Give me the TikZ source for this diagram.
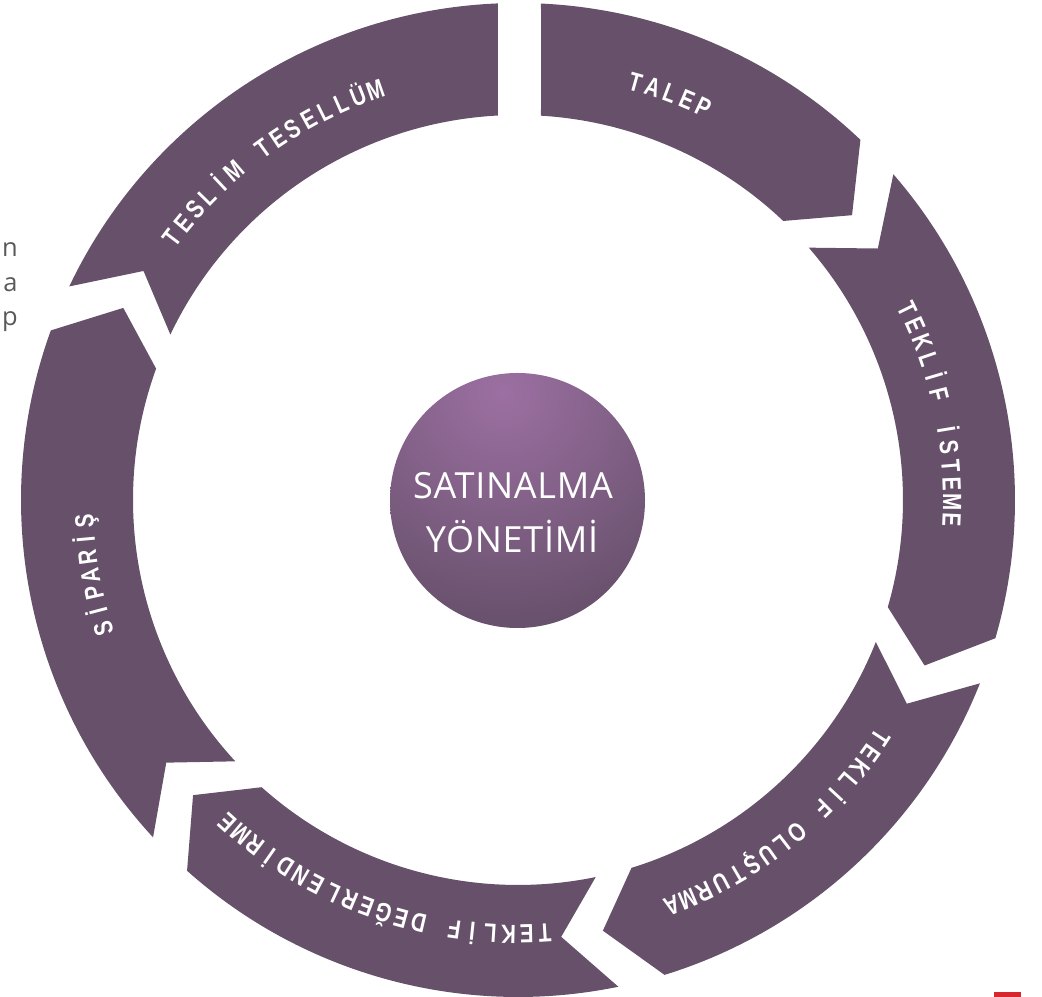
\documentclass[tikz,border=0pt]{standalone}
\usepackage{fontspec}
\usepackage{tikz}
\usetikzlibrary{positioning}
\newfontfamily\ringfont[FakeStretch=0.78]{Liberation Sans}
\newfontfamily\titlefont[LetterSpace=2]{Open Sans}
\definecolor{plum}{RGB}{102,80,106}
\definecolor{plumlight}{RGB}{156,112,162}
\definecolor{barred}{RGB}{215,38,46}

\begin{document}
\begin{tikzpicture}[x=0.02cm,y=0.02cm,
    segment/.style={fill=plum},
    ringchar/.style={text=white, anchor=base, inner sep=0pt,
      font=\ringfont\bfseries\fontsize{15}{18}\selectfont},
    title/.style={text=white, anchor=base, inner sep=0pt,
      font=\titlefont\fontsize{20.5}{24}\selectfont},
    sidenote/.style={text=black!65, anchor=base east, inner sep=0pt,
      font=\titlefont\fontsize{14.5}{16}\selectfont}]
\useasboundingbox (0,0) rectangle (1042,997);
\begin{scope}[shift={(518,497)}]
  % ring of arrows, clockwise
  \foreach \sO/\sI/\nd/\eO/\eI/\td in {87.35/86.58/0/46.45/46.45/6,
      40.95/40.95/6/-16.15/-16.15/6, -21.65/-21.65/6/-72.85/-72.85/6,
      -78.35/-78.35/6/-131.75/-131.75/6, -137.25/-137.25/6/-199.95/-199.95/6,
      -205.45/-205.45/6/-267.69/-267.02/0}
    \fill[segment] (\sO:497) arc[start angle=\sO, end angle=\eO, radius=497]
      -- ({(\eO+\eI)/2-\td}:439) -- (\eI:385)
      arc[start angle=\eI, end angle=\sI, radius=385]
      -- ({(\sO+\sI)/2-\nd}:439) -- cycle;
  % labels, one letter per 2.4 degrees
  \foreach \mid/\n/\word [count=\k] in {69.5/5/{T,A,L,E,P},
      11.75/13/{T,E,K,L,İ,F,{},İ,S,T,E,M,E},
      -51.25/16/{T,E,K,L,İ,F,{},O,L,U,Ş,T,U,R,M,A},
      -109.25/20/{T,E,K,L,İ,F,{},D,E,Ğ,E,R,L,E,N,D,İ,R,M,E},
      190/7/{S,İ,P,A,R,İ,Ş},
      126/15/{T,E,S,L,İ,M,{},T,E,S,E,L,L,Ü,M}}
    \foreach \ch [count=\i] in \word
      \node[ringchar, rotate={\mid+((\n+1)/2-\i)*2.4-90}] (l\k-\i)
        at ({\mid+((\n+1)/2-\i)*2.4}:425) {\ch};
\end{scope}
% hub
\begin{scope}
  \clip (517.5,496.5) circle[radius=127.5];
  \shade[inner color=plumlight, outer color=plum] (503,604) circle[radius=240];
\end{scope}
\node[title] (sat) at (513,498) {SATINALMA};
\node[title] (yon) at (512,444) {YÖNETİMİ};
% clipped words at the left edge
\node[sidenote] (n1) at (18,740) {n};
\node[sidenote] (n2) at (18,705) {a};
\node[sidenote] (n3) at (18,671) {p};
\fill[barred] (994,0) rectangle (1021,5);
\end{tikzpicture}
\end{document}
